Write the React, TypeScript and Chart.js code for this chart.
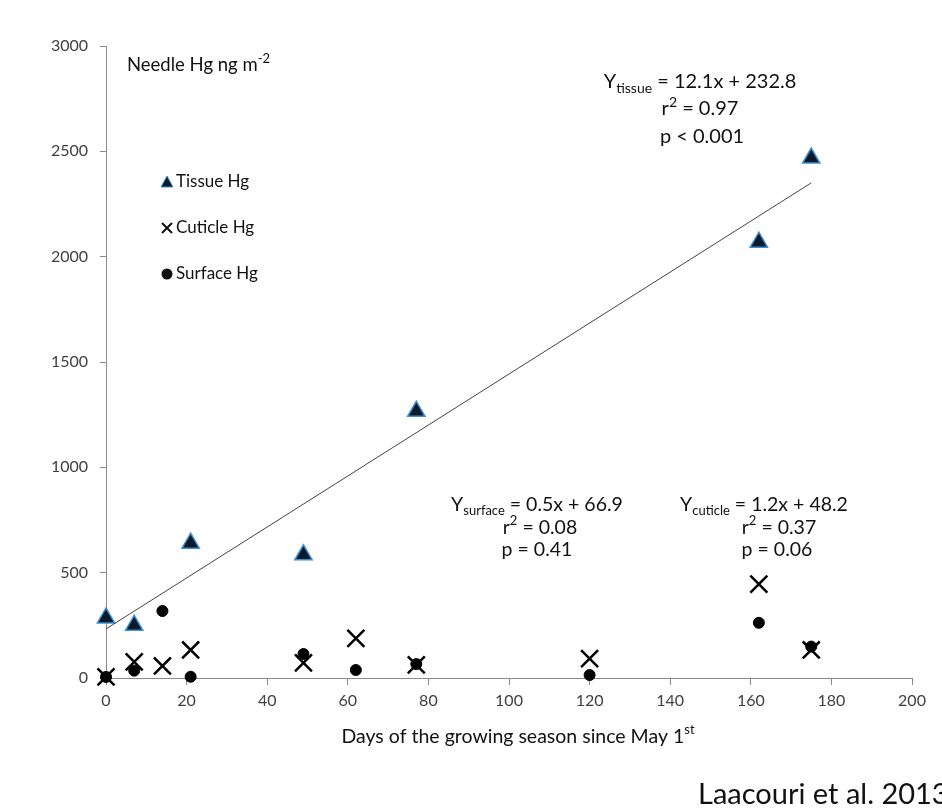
import React, { useEffect, useRef } from "react";
import { Chart, registerables } from "chart.js";
Chart.register(...registerables);

const tissueDays = [0, 7, 21, 49, 77, 162, 175];
const tissueHg = [285, 250, 640, 585, 1266, 2069, 2468];
const cuticleDays = [0, 7, 14, 21, 49, 62, 77, 120, 162, 175];
const cuticleHg = [5, 77, 57, 133, 72, 188, 62, 92, 446, 133];
const surfaceDays = [0, 7, 14, 21, 49, 62, 77, 120, 162, 175];
const surfaceHg = [5, 35, 318, 6, 114, 38, 66, 14, 262, 149];
const trendDays = [0, 175];
const trendHg = [232.8, 2350.3];
const xTicks = [0, 20, 40, 60, 80, 100, 120, 140, 160, 180, 200];
const yTicks = [0, 500, 1000, 1500, 2000, 2500, 3000];

const FONT = "Lato, 'Open Sans', sans-serif";

type Seg = { t: string; m?: "sub" | "sup" };

function drawRich(ctx: CanvasRenderingContext2D, segs: Seg[], cx: number, cy: number, size: number, family: string, align: "center" | "left" = "center") {
  const small = Math.round(size * 0.68);
  let total = 0;
  const widths = segs.map((s) => {
    ctx.font = `${s.m ? small : size}px ${family}`;
    const w = ctx.measureText(s.t).width;
    total += w;
    return w;
  });
  let x = align === "center" ? cx - total / 2 : cx;
  ctx.textBaseline = "middle";
  ctx.textAlign = "left";
  segs.forEach((s, i) => {
    ctx.font = `${s.m ? small : size}px ${family}`;
    let y = cy;
    if (s.m === "sub") y = cy + size * 0.32;
    if (s.m === "sup") y = cy - size * 0.35;
    ctx.fillText(s.t, x, y);
    x += widths[i];
  });
}

const annotations = {
  id: "annotations",
  afterDraw(chart: any) {
    const ctx: CanvasRenderingContext2D = chart.ctx;
    ctx.save();
    ctx.fillStyle = "#111";
    // y unit
    drawRich(ctx, [{ t: "Needle Hg ng m" }, { t: "-2", m: "sup" }], 127, 65, 18.5, FONT, "left");
    // tissue equation
    drawRich(ctx, [{ t: "Y" }, { t: "tissue", m: "sub" }, { t: " = 12.1x + 232.8" }], 700, 82, 20, FONT);
    drawRich(ctx, [{ t: "r" }, { t: "2", m: "sup" }, { t: " = 0.97" }], 700, 109, 20, FONT);
    drawRich(ctx, [{ t: "p < 0.001" }], 702, 137, 20, FONT);
    // surface equation
    drawRich(ctx, [{ t: "Y" }, { t: "surface", m: "sub" }, { t: " = 0.5x + 66.9" }], 537, 505, 19.5, FONT);
    drawRich(ctx, [{ t: "r" }, { t: "2", m: "sup" }, { t: " = 0.08" }], 540, 528, 19.5, FONT);
    drawRich(ctx, [{ t: "p = 0.41" }], 537, 550, 19.5, FONT);
    // cuticle equation
    drawRich(ctx, [{ t: "Y" }, { t: "cuticle", m: "sub" }, { t: " = 1.2x + 48.2" }], 764, 505, 19.5, FONT);
    drawRich(ctx, [{ t: "r" }, { t: "2", m: "sup" }, { t: " = 0.37" }], 779, 528, 19.5, FONT);
    drawRich(ctx, [{ t: "p = 0.06" }], 777, 550, 19.5, FONT);
    // legend
    const lx = 167;
    ctx.beginPath();
    ctx.moveTo(lx, 176);
    ctx.lineTo(lx + 6, 187);
    ctx.lineTo(lx - 6, 187);
    ctx.closePath();
    ctx.fillStyle = "#0b1a2a";
    ctx.fill();
    ctx.strokeStyle = "#3d8fd1";
    ctx.lineWidth = 1;
    ctx.stroke();
    ctx.fillStyle = "#111";
    drawRich(ctx, [{ t: "Tissue Hg" }], 176, 182, 17, FONT, "left");
    ctx.strokeStyle = "#111";
    ctx.lineWidth = 2;
    ctx.beginPath();
    ctx.moveTo(lx - 5, 223);
    ctx.lineTo(lx + 5, 233);
    ctx.moveTo(lx + 5, 223);
    ctx.lineTo(lx - 5, 233);
    ctx.stroke();
    drawRich(ctx, [{ t: "Cuticle Hg" }], 176, 228, 17, FONT, "left");
    ctx.beginPath();
    ctx.arc(lx, 274, 5.5, 0, Math.PI * 2);
    ctx.fill();
    drawRich(ctx, [{ t: "Surface Hg" }], 176, 274, 17, FONT, "left");
    // x title
    drawRich(ctx, [{ t: "Days of the growing season since May 1" }, { t: "st", m: "sup" }], 518, 737, 19.5, FONT);
    // citation
    drawRich(ctx, [{ t: "Laacouri et al. 2013" }], 698, 795, 29, FONT, "left");
    ctx.restore();
  },
};

export default function App() {
  const ref = useRef<HTMLCanvasElement>(null);
  useEffect(() => {
    document.body.style.margin = "0";
    const canvas = ref.current!;
    const chart = new Chart(canvas, {
      type: "scatter",
      data: {
        datasets: [
          {
            type: "line",
            label: "trend",
            data: trendDays.map((d, i) => ({ x: d, y: trendHg[i] })),
            borderColor: "#444",
            borderWidth: 1,
            pointRadius: 0,
            fill: false,
          } as any,
          {
            label: "Tissue Hg",
            data: tissueDays.map((d, i) => ({ x: d, y: tissueHg[i] })),
            pointStyle: "triangle",
            pointRadius: 10,
            backgroundColor: "#0b1a2a",
            borderColor: "#3d8fd1",
            borderWidth: 1.5,
            clip: false,
          } as any,
          {
            label: "Surface Hg",
            data: surfaceDays.map((d, i) => ({ x: d, y: surfaceHg[i] })),
            pointStyle: "circle",
            pointRadius: 5.5,
            backgroundColor: "#000",
            borderColor: "#000",
            borderWidth: 1,
            clip: false,
          } as any,
          {
            label: "Cuticle Hg",
            data: cuticleDays.map((d, i) => ({ x: d, y: cuticleHg[i] })),
            pointStyle: "crossRot",
            pointRadius: 12,
            backgroundColor: "#000",
            borderColor: "#000",
            borderWidth: 2.5,
            clip: false,
          } as any,
        ],
      },
      options: {
        animation: false,
        responsive: false,
        layout: { padding: { left: 0, top: 46, right: 30, bottom: 82 } },
        plugins: { legend: { display: false }, tooltip: { enabled: false } },
        scales: {
          x: {
            type: "linear",
            min: 0,
            max: 200,
            afterBuildTicks: (s: any) => {
              s.ticks = xTicks.map((v) => ({ value: v }));
            },
            afterFit: (s: any) => {
              s.height = 50;
            },
            ticks: { color: "#404040", font: { family: FONT, size: 16 }, padding: 6, callback: (v: any) => String(v) },
            grid: { display: true, drawOnChartArea: false, drawTicks: true, tickLength: 7, color: "#8a8a8a" },
            border: { color: "#8a8a8a", width: 1 },
          },
          y: {
            type: "linear",
            min: 0,
            max: 3000,
            afterBuildTicks: (s: any) => {
              s.ticks = yTicks.map((v) => ({ value: v }));
            },
            afterFit: (s: any) => {
              s.width = 106;
            },
            ticks: { color: "#404040", font: { family: FONT, size: 16 }, padding: 12, callback: (v: any) => String(v) },
            grid: { display: true, drawOnChartArea: false, drawTicks: true, tickLength: 6, color: "#8a8a8a" },
            border: { color: "#8a8a8a", width: 1 },
          },
        },
      },
      plugins: [annotations],
    });
    return () => chart.destroy();
  }, []);
  return <canvas ref={ref} width={942} height={810} style={{ display: "block" }} />;
}
